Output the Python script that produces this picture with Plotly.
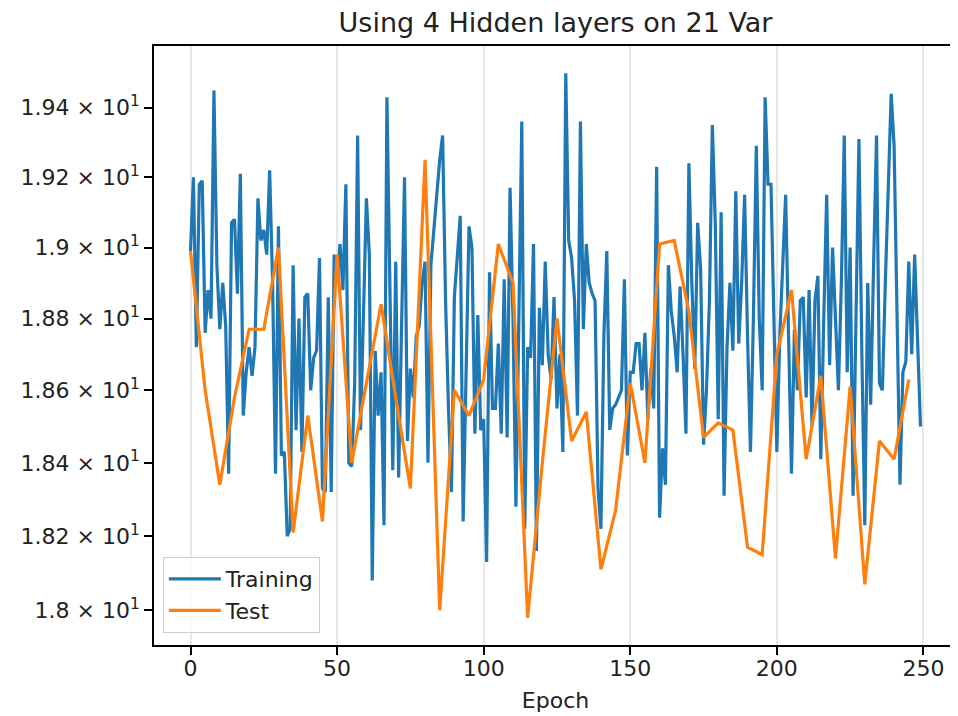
import math
import plotly.graph_objects as go

title_text = "Using 4 Hidden layers on 21 Var"
x_label = "Epoch"

train_epochs = list(range(250))
train_loss = [
    18.99, 19.20, 18.72, 19.18, 19.19, 18.76, 18.88, 18.80, 19.45, 18.95,
    18.77, 18.90, 18.78, 18.37, 19.07, 19.08, 18.87, 19.21, 18.53, 18.65,
    18.72, 18.64, 18.72, 19.14, 19.02, 19.05, 18.98, 19.22, 18.90, 18.37,
    19.06, 18.42, 18.43, 18.20, 18.22, 18.95, 18.49, 18.80, 18.43, 18.86,
    18.87, 18.60, 18.69, 18.71, 18.97, 18.33, 18.32, 18.86, 18.32, 18.98,
    18.90, 19.01, 18.88, 19.18, 18.40, 18.39, 18.62, 19.32, 18.49, 18.80,
    19.14, 18.98, 18.08, 18.71, 18.53, 18.65, 18.23, 19.43, 18.90, 18.38,
    18.96, 18.36, 18.78, 19.20, 18.46, 18.66, 18.58, 18.75, 18.78, 18.90,
    18.96, 18.40, 18.95, 19.05, 19.15, 19.25, 19.32, 18.85, 18.55, 18.32,
    18.86, 18.97, 19.09, 18.24, 18.70, 19.06, 19.00, 18.48, 18.81, 18.49,
    18.52, 18.13, 18.93, 18.55, 18.55, 18.73, 18.48, 18.91, 18.47, 19.17,
    18.80, 18.28, 18.80, 19.36, 18.22, 18.72, 18.69, 19.01, 18.16, 18.83,
    18.67, 18.96, 18.70, 18.63, 18.86, 18.55, 18.70, 18.43, 19.50, 19.02,
    18.97, 18.85, 18.53, 19.36, 18.77, 19.01, 18.90, 18.87, 18.85, 18.33,
    18.22, 18.75, 18.99, 18.49, 18.55, 18.56, 18.58, 18.60, 18.91, 18.42,
    18.65, 18.65, 18.73, 18.73, 18.60, 18.76, 18.52, 18.66, 18.55, 19.23,
    18.25, 18.44, 18.34, 18.95, 18.82, 18.75, 18.65, 18.89, 18.70, 18.48,
    19.24, 18.90, 18.66, 19.07, 18.94, 18.45, 18.60, 18.85, 19.35, 19.07,
    18.52, 19.10, 18.31, 18.72, 18.90, 18.71, 19.16, 18.73, 18.90, 19.15,
    18.75, 18.43, 18.80, 19.29, 18.80, 18.60, 19.43, 19.18, 19.18, 18.80,
    18.43, 18.75, 18.95, 19.15, 18.75, 18.37, 18.77, 18.60, 18.85, 18.86,
    18.58, 18.88, 18.50, 18.85, 18.92, 18.41, 18.80, 19.15, 18.67, 19.00,
    18.80, 18.60, 18.90, 19.32, 18.65, 19.00, 18.31, 18.85, 19.31, 18.70,
    18.23, 18.90, 18.56, 18.95, 19.32, 18.62, 18.60, 18.90, 19.20, 19.44,
    19.29, 18.80, 18.34, 18.65, 18.68, 18.96, 18.70, 18.98, 18.72, 18.50,
]

test_epochs = list(range(0, 250, 5))
test_loss = [
    18.99, 18.60, 18.34, 18.58, 18.77, 18.77, 19.00, 18.21, 18.53, 18.24,
    18.98, 18.40, 18.62, 18.84, 18.58, 18.33, 19.25, 18.00, 18.60, 18.53,
    18.63, 19.01, 18.90, 17.98, 18.40, 18.80, 18.46, 18.54, 18.11, 18.27,
    18.62, 18.40, 19.01, 19.02, 18.82, 18.47, 18.51, 18.49, 18.17, 18.15,
    18.70, 18.88, 18.41, 18.64, 18.14, 18.61, 18.07, 18.46, 18.41, 18.63,
]

y_tick_values = [18.0, 18.2, 18.4, 18.6, 18.8, 19.0, 19.2, 19.4]
y_tick_mantissas = ["1.8", "1.82", "1.84", "1.86", "1.88", "1.9", "1.92", "1.94"]
x_tick_values = [0, 50, 100, 150, 200, 250]

# matplotlib-like 5% autoscale margins
all_x = train_epochs + test_epochs
xmin, xmax = min(all_x), max(all_x)
xpad = 0.05 * (xmax - xmin)
all_y = train_loss + test_loss
lmin, lmax = math.log10(min(all_y)), math.log10(max(all_y))
lpad = 0.05 * (lmax - lmin)

y_tick_text = [f"{m} × 10<sup>1</sup>" for m in y_tick_mantissas]

fig = go.Figure()
fig.add_trace(go.Scatter(x=train_epochs, y=train_loss, mode="lines", name="Training",
                         line=dict(color="#1f77b4", width=3.2)))
fig.add_trace(go.Scatter(x=test_epochs, y=test_loss, mode="lines", name="Test",
                         line=dict(color="#ff7f0e", width=3.2)))

# The page body has an 8px margin, so the figure is sized to sit inside the window.
W, H = 950, 708
font_family = "DejaVu Sans, Verdana, sans-serif"
txt = "#222222"
fig.update_layout(
    width=W, height=H,
    margin=dict(l=146, r=1, t=38, b=71),
    paper_bgcolor="white", plot_bgcolor="white",
    font=dict(family=font_family, size=22, color=txt),
    title=dict(text=title_text, x=0.5, xref="paper", xanchor="center",
               y=1 - 15 / H, yanchor="middle",
               font=dict(family=font_family, size=27, color=txt)),
    showlegend=True,
    legend=dict(x=0.011, y=0.02, xanchor="left", yanchor="bottom",
                bgcolor="rgba(255,255,255,0.8)", bordercolor="#cccccc", borderwidth=1,
                font=dict(family=font_family, size=22, color=txt),
                itemwidth=52),
)
fig.update_xaxes(
    range=[xmin - xpad, xmax + xpad],
    tickmode="array", tickvals=x_tick_values,
    showgrid=True, gridcolor="#e8e8e8", gridwidth=1.6,
    zeroline=False,
    showline=True, linecolor="black", linewidth=1.8, mirror=True,
    ticks="outside", ticklen=8, tickwidth=1.8, tickcolor="black",
    ticklabelstandoff=-5,
    title=dict(text=x_label, standoff=12, font=dict(family=font_family, size=22, color=txt)),
    tickfont=dict(family=font_family, size=22, color=txt),
    automargin=False,
)
fig.update_yaxes(
    type="log",
    range=[lmin - lpad, lmax + lpad],
    tickmode="array", tickvals=y_tick_values, ticktext=y_tick_text,
    showgrid=False, zeroline=False,
    showline=True, linecolor="black", linewidth=1.8, mirror=True,
    ticks="outside", ticklen=8, tickwidth=1.8, tickcolor="black",
    tickfont=dict(family=font_family, size=22, color=txt),
    automargin=False,
)

fig.write_html("out.html", config={"displayModeBar": False})
